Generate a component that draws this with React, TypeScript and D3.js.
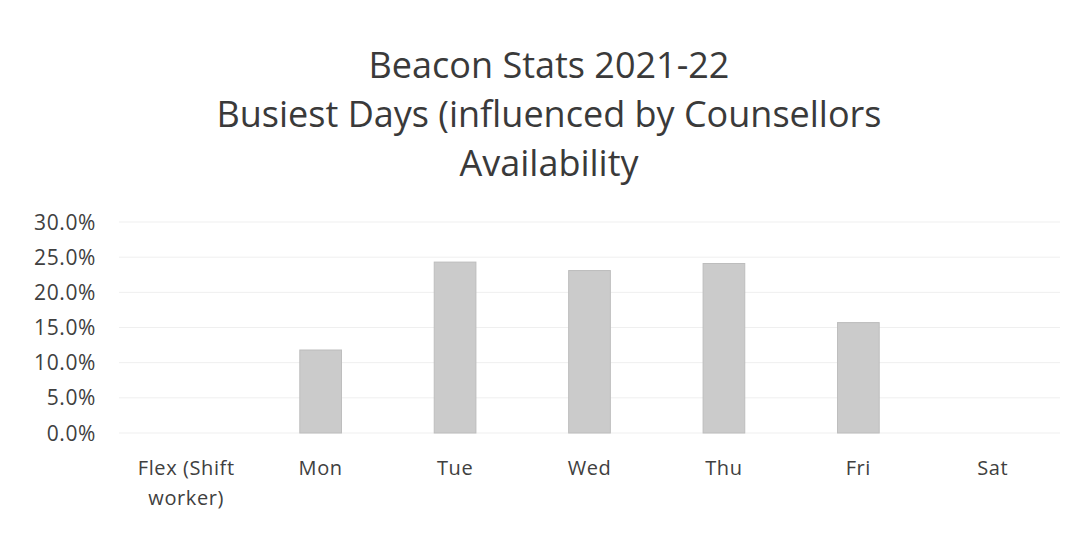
import React from "react";
import * as d3 from "d3";

const categories = ["Flex (Shift worker)", "Mon", "Tue", "Wed", "Thu", "Fri", "Sat"];
const values = [0, 11.8, 24.3, 23.1, 24.1, 15.7, 0];
const yTicks = [0, 5, 10, 15, 20, 25, 30];
const titleLines = ["Beacon Stats 2021-22", "Busiest Days (influenced by Counsellors", "Availability"];
const catLines: Record<string, string[]> = { "Flex (Shift worker)": ["Flex (Shift", "worker)"] };

const W = 1091, H = 536;
const margin = { left: 119, right: 1060, top: 222, bottom: 433 };
const FONT = "'Open Sans', 'Noto Sans', sans-serif";

export default function App() {
  const x = d3.scaleBand<string>().domain(categories).range([margin.left, margin.right]).paddingInner(0.69).paddingOuter(0.345);
  const y = d3.scaleLinear().domain([0, 30]).range([margin.bottom, margin.top]);
  return (
    <svg width={W} height={H} style={{ position: "absolute", left: 0, top: 0, background: "#fff" }}>
      <rect x={0} y={0} width={W} height={H} fill="#fff" />
      {titleLines.map((t, i) => (
        <text key={i} x={549} y={78 + i * 49} textAnchor="middle" fontFamily={FONT} fontSize={36} fill="#3a3a3a">{t}</text>
      ))}
      {yTicks.map((t) => (
        <g key={t}>
          <line x1={margin.left} x2={margin.right} y1={y(t)} y2={y(t)} stroke="#efefef" strokeWidth={1} />
          <text x={96} y={y(t)} dy="0.36em" textAnchor="end" fontFamily={FONT} fontSize={21} letterSpacing={0.6} fill="#404040">{t.toFixed(1) + "%"}</text>
        </g>
      ))}
      {categories.map((c, i) => (
        <rect key={c} x={x(c)} y={y(values[i])} width={x.bandwidth()} height={y(0) - y(values[i])} fill="#cbcbcb" stroke="#bdbdbd" strokeWidth={1} />
      ))}
      {categories.map((c) => {
        const lines = catLines[c] || [c];
        const cx = (x(c) as number) + x.bandwidth() / 2;
        return (
          <text key={c} x={cx} y={475} textAnchor="middle" fontFamily={FONT} fontSize={20} letterSpacing={0.6} fill="#404040">
            {lines.map((l, j) => (
              <tspan key={j} x={cx} dy={j === 0 ? 0 : 30}>{l}</tspan>
            ))}
          </text>
        );
      })}
    </svg>
  );
}
